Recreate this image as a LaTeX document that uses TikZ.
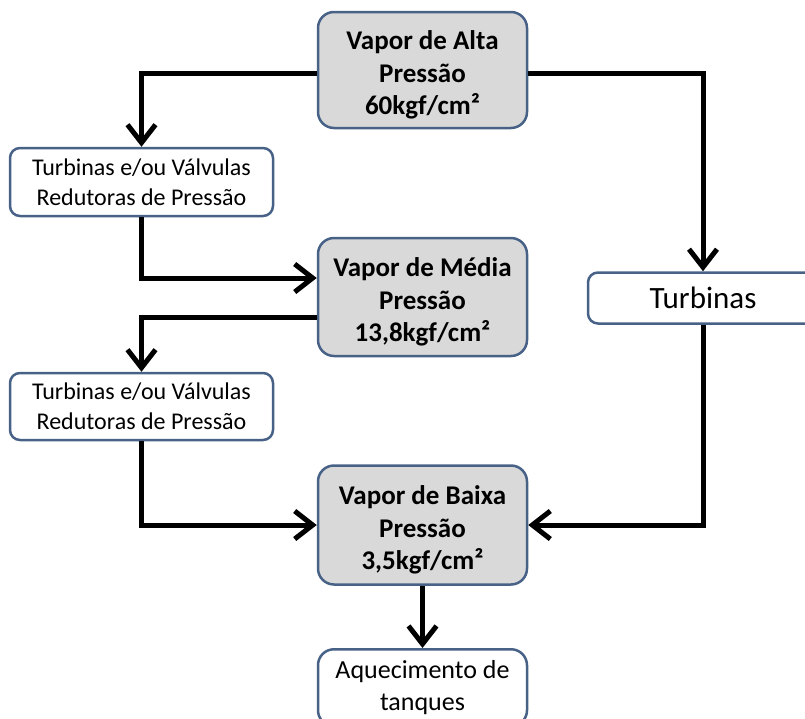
\documentclass[tikz,border=0pt]{standalone}
\usepackage{fontspec}
\setmainfont{Carlito}
\usetikzlibrary{arrows.meta}
\definecolor{bordc}{RGB}{72,98,135}
\definecolor{grayf}{RGB}{217,217,217}
\begin{document}
\begin{tikzpicture}[x=1pt,y=-1pt,
 vbox/.style={draw=bordc, line width=2.5pt, fill=grayf, rounded corners=16pt, minimum width=209pt, inner sep=0pt},
 vtext/.style={align=center, font=\fontsize{27}{32.5}\selectfont\bfseries, inner sep=0pt},
 sbox/.style={draw=bordc, line width=2.5pt, fill=white, rounded corners=10pt, align=center, inner sep=0pt, font=\fontsize{24}{30}\selectfont},
 arr/.style={line width=5pt, line join=miter, -{Straight Barb[length=18pt,width=28pt]}}]
\useasboundingbox (0,0) rectangle (805,718);
\node[vbox, minimum height=116pt] (alta) at (422.5,70) {};
\node[vtext] (altat) at ([yshift=-5pt]alta.center) {Vapor de Alta\\Pressão\\60kgf/cm²};
\node[vbox, minimum height=118pt] (med) at (422.5,297) {};
\node[vtext] (medt) at ([yshift=-5pt]med.center) {Vapor de Média\\Pressão\\13,8kgf/cm²};
\node[vbox, minimum height=119pt] (low) at (422.5,525) {};
\node[vtext] (lowt) at ([yshift=-5pt]low.center) {Vapor de Baixa\\Pressão\\3,5kgf/cm²};
\node[sbox, minimum width=263pt, minimum height=68pt] (t1) at (141.5,182) {Turbinas e/ou Válvulas\\Redutoras de Pressão};
\node[sbox, minimum width=263pt, minimum height=67pt] (t2) at (141.5,406.5) {Turbinas e/ou Válvulas\\Redutoras de Pressão};
\node[sbox, minimum width=230pt, minimum height=51pt, font=\fontsize{31}{36}\selectfont] (turb) at (703,298) {Turbinas};
\node[sbox, minimum width=209pt, minimum height=77pt, anchor=north, font=\fontsize{26}{32}\selectfont, rounded corners=16pt] (aq) at (422.5,648) {Aquecimento de\\tanques};
\draw[arr] ([yshift=-3pt]alta.west) -| (t1.north);
\draw[arr] ([yshift=-3pt]alta.east) -| (turb.north);
\draw[arr] (t1.south) |- ([yshift=19pt]med.west);
\draw[arr] ([yshift=-20pt]med.west) -| (t2.north);
\draw[arr] (t2.south) |- (low.west);
\draw[arr] (turb.south) |- (low.east);
\draw[arr] (low.south) -- (aq.north);
\end{tikzpicture}
\end{document}
